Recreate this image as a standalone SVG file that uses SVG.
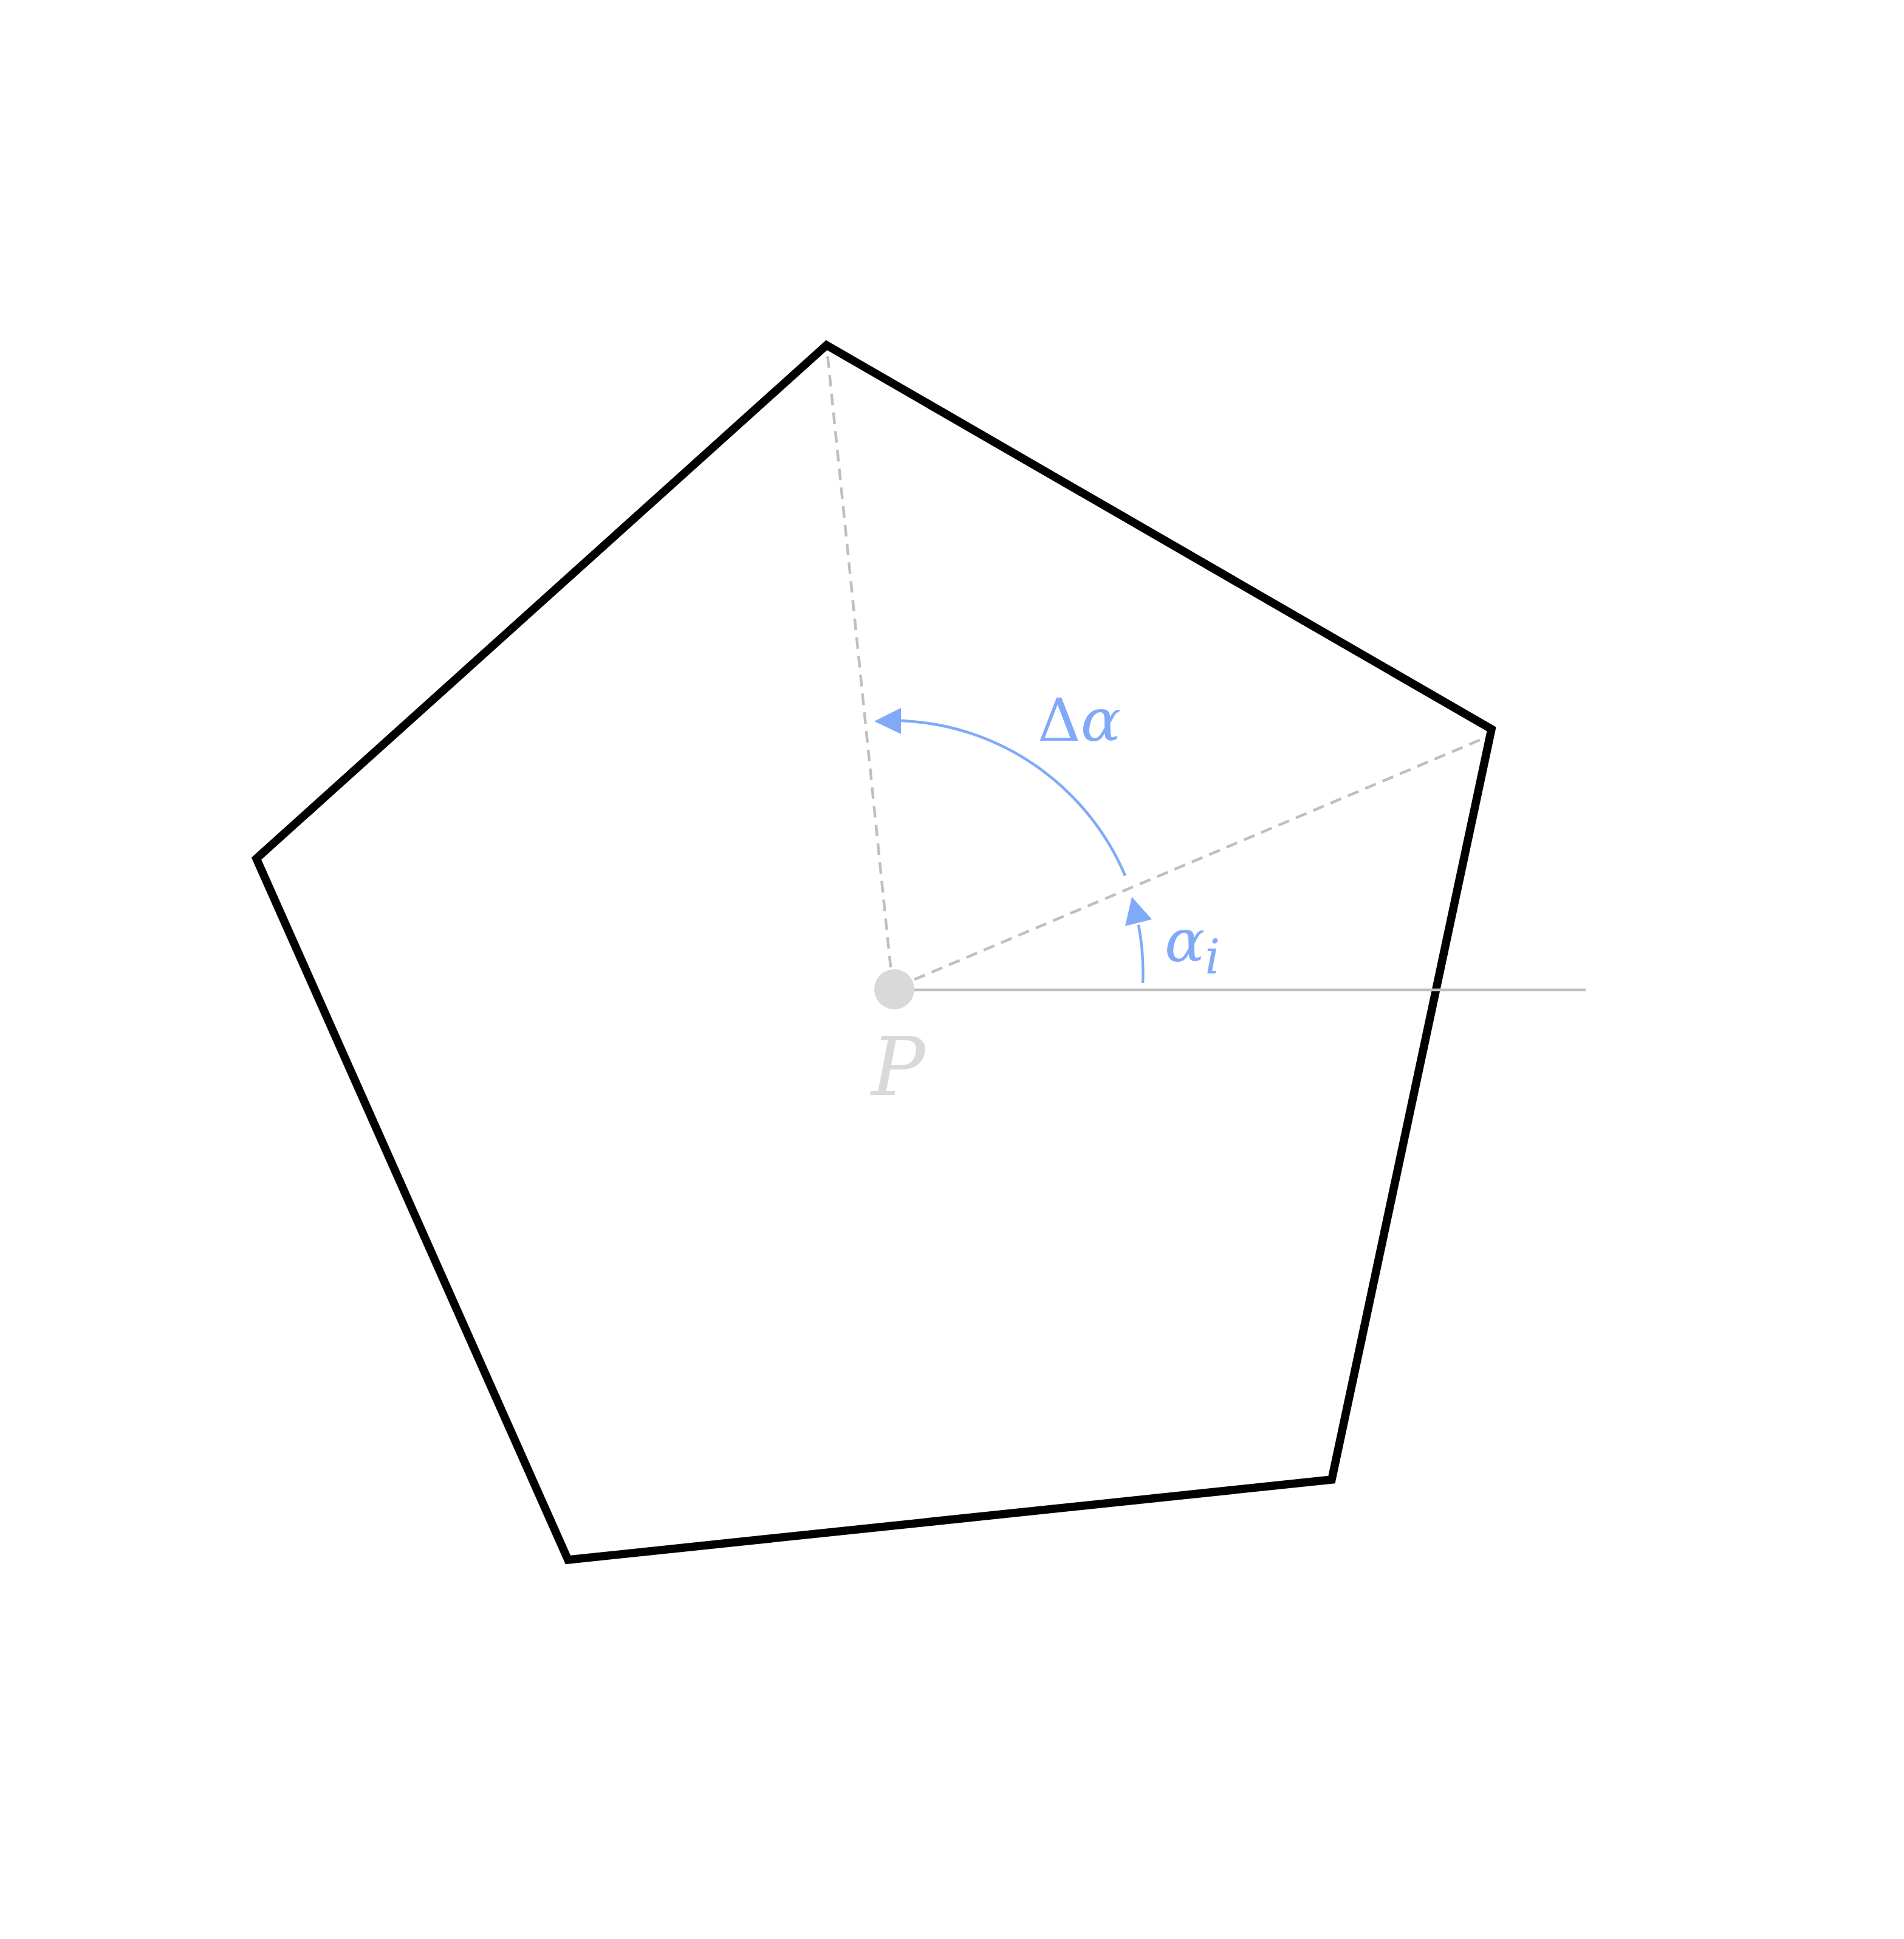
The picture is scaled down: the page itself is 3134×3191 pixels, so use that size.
<svg xmlns="http://www.w3.org/2000/svg" width="3134" height="3191" viewBox="0 0 3134 3191">
<style>
.poly{fill:none;stroke:#000;stroke-width:13.5;stroke-linejoin:miter;stroke-miterlimit:10}
.dash{fill:none;stroke:#bfbfbf;stroke-width:4.5;stroke-dasharray:19 12}
.ray{fill:none;stroke:#bfbfbf;stroke-width:4.5}
.arc{fill:none;stroke:#80aaf8;stroke-width:4.5}
.head{fill:#80aaf8}
.lbl{font-family:"DejaVu Serif",serif;fill:#80aaf8}
</style>
<rect width="3134" height="3191" fill="#fff"/>
<g id="pentagon">
<polygon class="poly" points="1360.5,568 2455,1200 2192,2435 935,2567 422,1413"/>
</g>
<g id="connectors">
<line class="dash" x1="1466" y1="1592" x2="1362" y2="583"/>
<line class="dash" x1="1505" y1="1612" x2="2440" y2="1216"/>
<line class="ray" x1="1472" y1="1629" x2="2610" y2="1629"/>
<path class="arc" d="M1852,1441 A419,419 0 0 0 1483,1186"/>
<polygon class="head" points="1439,1187 1483,1165 1483,1208"/>
<path class="arc" d="M1881,1618 A416,416 0 0 0 1874,1522"/>
<polygon class="head" points="1863,1476 1852,1524 1896,1513"/>
</g>
<g id="point-P">
<circle cx="1472" cy="1628" r="33" fill="#d9d9d9"/>
<text x="1434" y="1802" font-family="DejaVu Serif, serif" font-style="italic" font-size="132" fill="#d9d9d9">P</text>
</g>
<g id="label-delta-alpha">
<text class="lbl" x="1708" y="1219" font-size="98">Δ<tspan font-style="italic">α</tspan></text>
</g>
<g id="label-alpha-i">
<text class="lbl" x="1917" y="1582" font-size="98" font-style="italic">α<tspan font-size="78" dy="20">i</tspan></text>
</g>
</svg>
